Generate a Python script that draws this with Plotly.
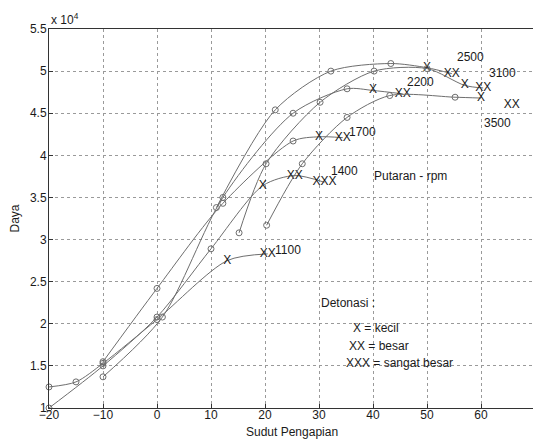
import plotly.graph_objects as go

# ---- data (power in units of 10^4) ----
rpm_names = ["1100", "1400", "1700", "2200", "2500", "3100", "3500"]

x_1100 = [-20, -15, -10, 0, 13, 20.5]
y_1100 = [1.25, 1.31, 1.53, 2.05, 2.75, 2.83]
d_1100 = ["", "", "", "", "X", "XX"]

x_1400 = [-20, -10, 0, 10, 19.6, 25.5, 31]
y_1400 = [1.0, 1.5, 2.08, 2.89, 3.64, 3.76, 3.68]
d_1400 = ["", "", "", "", "X", "XX", "XXX"]

x_1700 = [-10, 0, 12.2, 25.2, 30, 34.4]
y_1700 = [1.55, 2.42, 3.43, 4.17, 4.22, 4.21]
d_1700 = ["", "", "", "", "X", "XX"]

x_2200 = [-10, 1, 12.2, 25.2, 35.2, 40, 45.5]
y_2200 = [1.37, 2.08, 3.5, 4.5, 4.79, 4.77, 4.73]
d_2200 = ["", "", "", "", "", "X", "XX"]

x_2500 = [11, 21.9, 32.2, 43.3, 50, 54.6]
y_2500 = [3.38, 4.54, 5.0, 5.09, 5.04, 4.97]
d_2500 = ["", "", "", "", "X", "XX"]

x_3100 = [15.2, 20.2, 30.2, 40.2, 50, 57, 60.4]
y_3100 = [3.08, 3.9, 4.63, 5.0, 5.03, 4.83, 4.8]
d_3100 = ["", "", "", "", "", "X", "XX"]

x_3500 = [20.3, 26.9, 35.2, 43.1, 55.2, 60]
y_3500 = [3.17, 3.9, 4.45, 4.71, 4.69, 4.68]
d_3500 = ["", "", "", "", "", "X"]

# isolated detonation mark (3500 rpm)
x_extra = [65.7]
y_extra = [4.6]
d_extra = ["XX"]

# rpm label anchor points
label_x = [21.5, 31.9, 35.2, 46.0, 55.2, 61.2, 60.1]
label_y = [2.88, 3.81, 4.28, 4.87, 5.17, 4.98, 4.38]

x_ticks = [-20, -10, 0, 10, 20, 30, 40, 50, 60, 70]
y_ticks = [1, 1.5, 2, 2.5, 3, 3.5, 4, 4.5, 5, 5.5]

series = [
    (x_1100, y_1100, d_1100),
    (x_1400, y_1400, d_1400),
    (x_1700, y_1700, d_1700),
    (x_2200, y_2200, d_2200),
    (x_2500, y_2500, d_2500),
    (x_3100, y_3100, d_3100),
    (x_3500, y_3500, d_3500),
]

LINE = "#6e6e6e"
TXT = "#1a1a1a"
FONT = "Liberation Sans, Arial, sans-serif"

fig = go.Figure()
for (xs, ys, ds), name in zip(series, rpm_names):
    sizes = [1 if d else 6 for d in ds]
    opac = [0 if d else 1 for d in ds]
    fig.add_trace(go.Scatter(
        x=xs, y=ys, name=name,
        mode="lines+markers+text",
        line=dict(color=LINE, width=1, shape="spline", smoothing=0.8),
        marker=dict(symbol="circle-open", size=sizes, color=LINE, opacity=opac,
                    line=dict(width=1, color=LINE)),
        text=ds, textposition="middle center",
        textfont=dict(family=FONT, size=12, color=TXT),
        showlegend=False, cliponaxis=False,
    ))

fig.add_trace(go.Scatter(
    x=x_extra, y=y_extra, mode="text", text=d_extra,
    textposition="middle center",
    textfont=dict(family=FONT, size=12, color=TXT),
    showlegend=False,
))

for name, lx, ly in zip(rpm_names, label_x, label_y):
    fig.add_annotation(x=lx, y=ly, text=name, showarrow=False,
                       xanchor="left", yanchor="middle",
                       font=dict(family=FONT, size=12, color=TXT))

notes = [
    ("Putaran - rpm", 39.8, 3.76),
    ("Detonasi :", 30.0, 2.25),
    ("X = kecil", 35.9, 1.95),
    ("XX = besar", 35.2, 1.74),
    ("XXX = sangat besar", 34.6, 1.54),
]
for t, nx, ny in notes:
    fig.add_annotation(x=nx, y=ny, text=t, showarrow=False,
                       xanchor="left", yanchor="middle",
                       font=dict(family=FONT, size=12, color=TXT))

fig.add_annotation(xref="paper", yref="paper", x=0.0, y=1.0,
                   text="x 10<sup>4</sup>", showarrow=False,
                   xanchor="left", yanchor="bottom",
                   font=dict(family=FONT, size=12, color=TXT))

# axis titles as annotations (positioned like the reference)
fig.add_annotation(xref="paper", yref="paper", x=0.5, y=-0.064,
                   text="Sudut Pengapian", showarrow=False,
                   xanchor="center", yanchor="middle",
                   font=dict(family=FONT, size=12, color=TXT))
fig.add_annotation(xref="paper", yref="paper", x=-0.07, y=0.5,
                   text="Daya", showarrow=False, textangle=-90,
                   xanchor="center", yanchor="middle",
                   font=dict(family=FONT, size=12, color=TXT))

axis_common = dict(
    showline=True, linecolor="#333333", linewidth=1, mirror=True,
    showgrid=True, gridcolor="#9a9a9a", griddash="dot", gridwidth=1,
    ticks="inside", ticklen=4, tickcolor="#333333",
    zeroline=False,
    tickfont=dict(family=FONT, size=12, color=TXT),
)

# the page body adds an 8px offset, so the figure is sized to compensate
fig.update_layout(
    width=533, height=437,
    margin=dict(l=41, r=6, t=21, b=37),
    paper_bgcolor="white", plot_bgcolor="white",
    xaxis=dict(range=[-20, 70], tickvals=x_ticks, ticklabelstandoff=-4,
               **axis_common),
    yaxis=dict(range=[1, 5.5], tickvals=y_ticks, ticklabelstandoff=-1,
               **axis_common),
)

fig.write_html("out.html")
